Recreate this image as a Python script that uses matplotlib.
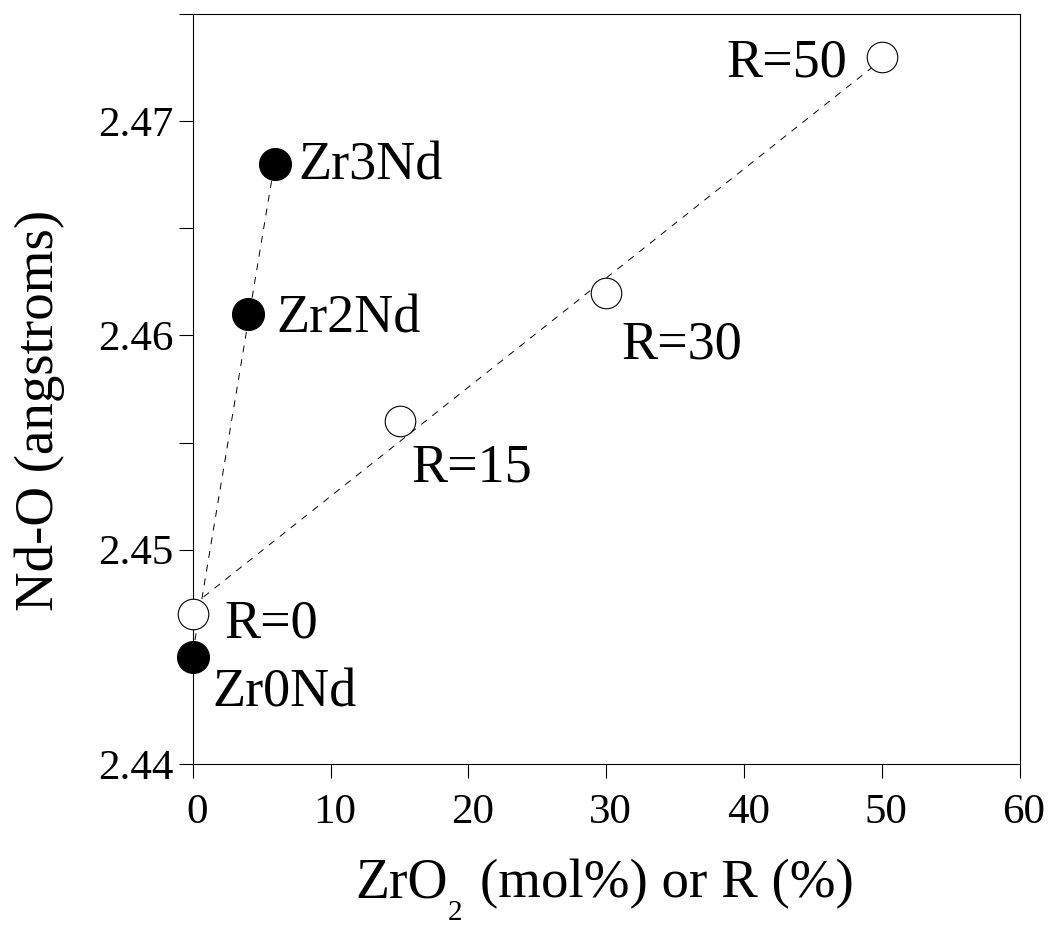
import numpy as np
import matplotlib
matplotlib.use("Agg")
import matplotlib.pyplot as plt
import matplotlib.transforms as mtransforms
from matplotlib.ticker import FixedLocator

plt.rcParams['font.family'] = ['Liberation Serif', 'DejaVu Serif']
plt.rcParams['lines.scale_dashes'] = False

# Data
zr_labels = ["Zr0Nd", "Zr2Nd", "Zr3Nd"]
zr_x = [0, 4, 6]
zr_y = [2.445, 2.461, 2.468]

r_labels = ["R=0", "R=15", "R=30", "R=50"]
r_x = [0, 15, 30, 50]
r_y = [2.447, 2.456, 2.462, 2.473]

x_ticks = [0, 10, 20, 30, 40, 50, 60]
y_ticks = [2.44, 2.45, 2.46, 2.47]
y_minor = [2.445, 2.455, 2.465, 2.475]

W, H = 1051, 926
fig = plt.figure(figsize=(W / 100, H / 100), dpi=100)
ax = fig.add_axes([192.7 / W, 1 - 764 / H, (1020 - 192.7) / W, (764 - 14) / H])
ax.set_xlim(0, 60)
ax.set_ylim(2.44, 2.475)

# fit lines
for xs, ys in ((zr_x, zr_y), (r_x, r_y)):
    p = np.polyfit(xs, ys, 1)
    xx = np.array([min(xs), max(xs)])
    ax.plot(xx, np.polyval(p, xx), color='black', lw=0.7, dashes=(5, 5), zorder=2, clip_on=False)

ax.plot(zr_x, zr_y, 'o', ms=23, mfc='black', mec='black', mew=0.8, zorder=4, clip_on=False)
ax.plot(r_x, r_y, 'o', ms=22, mfc='white', mec='black', mew=0.8, zorder=4, clip_on=False)

fs_ann = 39
offsets_zr = {"Zr0Nd": (20, -50, 'left'), "Zr2Nd": (29, -18, 'left'), "Zr3Nd": (23, -15, 'left')}
offsets_r = {"R=0": (32, -24, 'left'), "R=15": (12, -60, 'left'), "R=30": (15, -66, 'left'), "R=50": (-35, -20, 'right')}
for lab, x, y in zip(zr_labels, zr_x, zr_y):
    dx, dy, ha = offsets_zr[lab]
    ax.annotate(lab, (x, y), xytext=(dx, dy), textcoords='offset pixels', ha=ha, va='baseline', fontsize=fs_ann)
for lab, x, y in zip(r_labels, r_x, r_y):
    dx, dy, ha = offsets_r[lab]
    ax.annotate(lab, (x, y), xytext=(dx, dy), textcoords='offset pixels', ha=ha, va='baseline', fontsize=fs_ann)

ax.set_xticks(x_ticks)
ax.set_xticklabels([str(v) for v in x_ticks])
ax.set_yticks(y_ticks)
ax.set_yticklabels(["%.2f" % v for v in y_ticks])
ax.yaxis.set_minor_locator(FixedLocator(y_minor))
ax.tick_params(axis='both', which='both', direction='out', length=10, width=0.8, labelsize=31)
ax.tick_params(axis='x', pad=11.5)
ax.tick_params(axis='y', pad=4)
shift = mtransforms.ScaledTranslation(4 / 100, 0, fig.dpi_scale_trans)
for lbl in ax.get_xticklabels():
    lbl.set_transform(lbl.get_transform() + shift)
for s in ax.spines.values():
    s.set_linewidth(0.8)

# x label composed of pieces so that the subscript sits low like the original
base_y = 1 - 897 / H
fig.text(355 / W, base_y, "ZrO", ha='left', va='baseline', fontsize=40)
fig.text(448 / W, 1 - 925.5 / H, "2", ha='left', va='bottom', fontsize=21)
fig.text(480 / W, base_y, "(mol%) or R (%)", ha='left', va='baseline', fontsize=39.5)

fig.text(53 / W, 1 - 410 / H, "Nd-O (angstroms)", ha='center', va='baseline',
         rotation=90, rotation_mode='anchor', fontsize=39.5)

fig.savefig("out.png", dpi=100)
